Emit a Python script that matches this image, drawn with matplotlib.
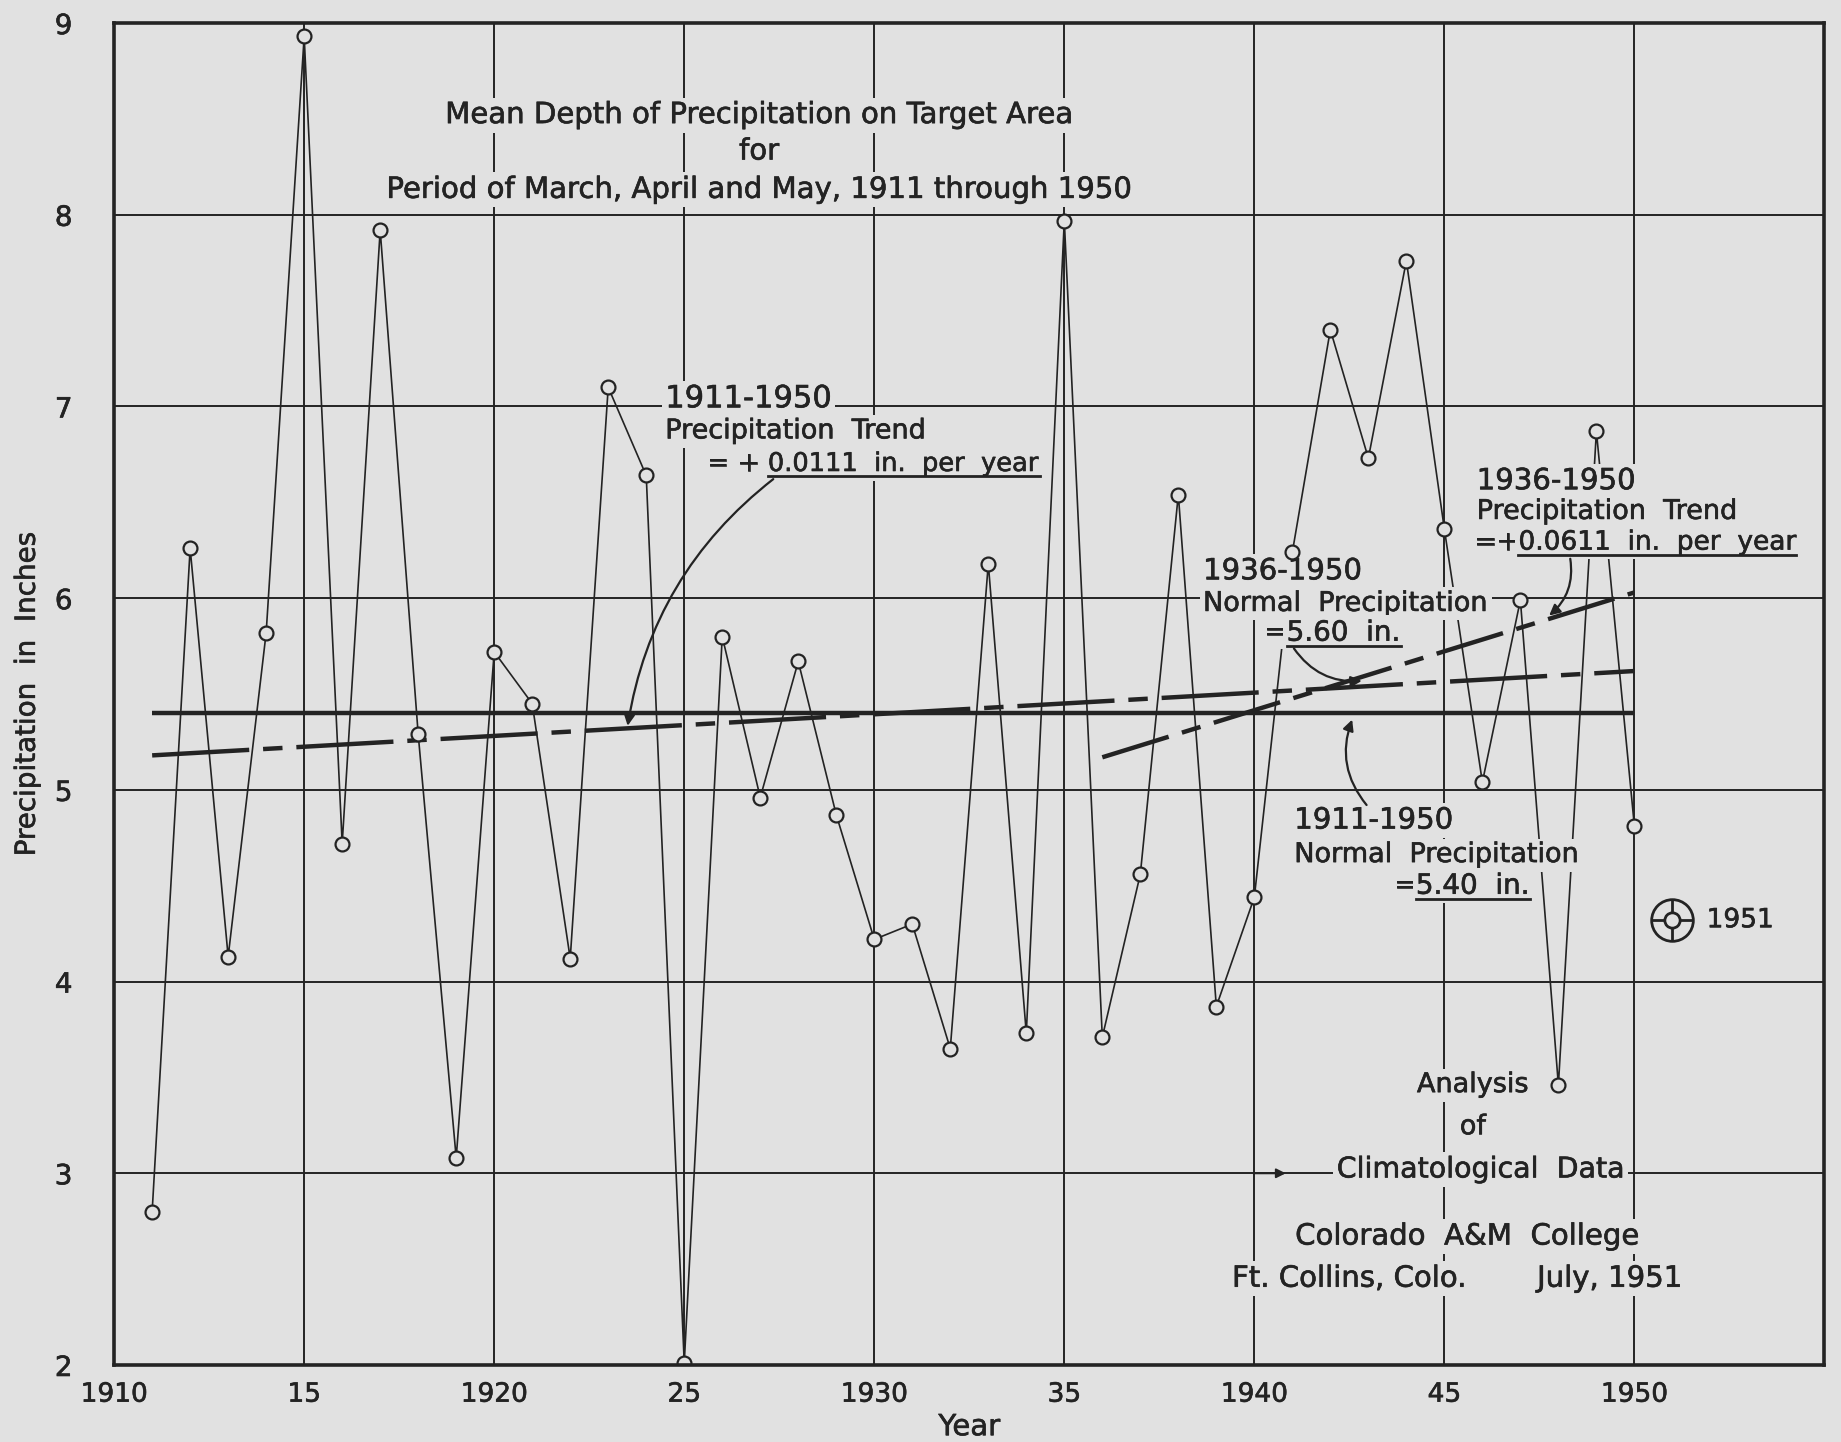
"""mean depth of spring precipitation on target area, 1911-1950"""

import matplotlib
matplotlib.use("Agg")
import matplotlib.pyplot as plt
import matplotlib.patheffects as pe
from matplotlib.lines import Line2D

# yearly values (March, April and May)
years = list(range(1911, 1951))
precip = [2.80, 6.26, 4.13, 5.82, 8.93, 4.72, 7.92, 5.29, 3.08, 5.72,
          5.45, 4.12, 7.10, 6.64, 2.01, 5.80, 4.96, 5.67, 4.87, 4.22,
          4.30, 3.65, 6.18, 3.73, 7.97, 3.71, 4.56, 6.54, 3.87, 4.44,
          6.24, 7.40, 6.73, 7.76, 6.36, 5.04, 5.99, 3.46, 6.87, 4.81]
year_1951 = [1951]
precip_1951 = [4.32]

# normals and trend lines
normal_years = [1911, 1950]
normal_all = [5.40, 5.40]
trend_all_years = [1911, 1950]
trend_all = [5.18, 5.62]
trend_recent_years = [1936, 1950]
trend_recent = [5.17, 6.03]

x_ticks = [1910, 1915, 1920, 1925, 1930, 1935, 1940, 1945, 1950]
x_tick_labels = ["1910", "15", "1920", "25", "1930", "35", "1940", "45", "1950"]
y_ticks = [2, 3, 4, 5, 6, 7, 8, 9]

bg = "#e1e1e1"
ink = "#232323"
bold_ink = [pe.withStroke(linewidth=0.45, foreground=ink)]

plt.rcParams["font.family"] = ["DejaVu Sans"]
plt.rcParams["lines.scale_dashes"] = False


def label(ax, x, y, s, size=19, ha="left", va="center"):
    """text that blanks out the grid behind it"""
    return ax.text(x, y, s, fontsize=size, ha=ha, va=va, color=ink, zorder=5,
                   path_effects=bold_ink,
                   bbox=dict(facecolor=bg, edgecolor="none", pad=2.5))


def arrow(ax, start, end, rad=0.25):
    ax.annotate("", xy=end, xytext=start, zorder=6,
                arrowprops=dict(arrowstyle="-|>", color=ink, lw=1.6,
                                mutation_scale=16,
                                connectionstyle="arc3,rad=%s" % rad))


def underline(fig, texts):
    fig.canvas.draw()
    inv = fig.transFigure.inverted()
    for t in texts:
        bb = t.get_window_extent()
        (x0, y0), (x1, _) = inv.transform([(bb.x0, bb.y0 + 1), (bb.x1, bb.y0 + 1)])
        fig.add_artist(Line2D([x0, x1], [y0, y0], transform=fig.transFigure,
                              lw=2.0, color=ink, zorder=7))


def main():
    fig = plt.figure(figsize=(18.41, 14.42), dpi=100, facecolor=bg)
    ax = fig.add_axes([0.062, 0.0534, 0.929, 0.9306])
    ax.set_facecolor(bg)
    ax.set_xlim(1910, 1955)
    ax.set_ylim(2, 9)

    # grid
    for x in x_ticks[1:]:
        ax.axvline(x, color=ink, lw=1.4, zorder=1)
    for y in y_ticks[1:-1]:
        ax.axhline(y, color=ink, lw=1.4, zorder=1)

    # normal and trends
    ax.plot(normal_years, normal_all, color=ink, lw=3.2, zorder=2,
            solid_capstyle="butt")
    ax.plot(trend_all_years, trend_all, color=ink, lw=3.2, zorder=2,
            dashes=(70, 10, 14, 10))
    ax.plot(trend_recent_years, trend_recent, color=ink, lw=3.2, zorder=2,
            dashes=(50, 10, 14, 10))

    # yearly data, circles kept above the text masks
    ax.plot(years, precip, color=ink, lw=1.2, zorder=3)
    ax.plot(years, precip, ls="none", zorder=6, marker="o", ms=10,
            mfc=bg, mec=ink, mew=1.6)

    # 1951 symbol
    ax.plot(year_1951, precip_1951, ls="none", marker="o", ms=30, mfc=bg,
            mec=ink, mew=2, zorder=6)
    ax.plot(year_1951, precip_1951, ls="none", marker="+", ms=30, mec=ink,
            mew=2, zorder=6)
    ax.plot(year_1951, precip_1951, ls="none", marker="o", ms=11, mfc=bg,
            mec=ink, mew=2, zorder=6)
    label(ax, 1951.9, 4.32, "1951", size=19)

    # title
    label(ax, 1926.97, 8.52, "Mean Depth of Precipitation on Target Area", 21, "center")
    label(ax, 1926.97, 8.33, "for", 21, "center")
    label(ax, 1926.97, 8.13, "Period of March, April and May, 1911 through 1950", 21, "center")

    under = []
    # 1911-1950 trend
    label(ax, 1924.5, 7.04, "1911-1950", 22)
    label(ax, 1924.5, 6.87, "Precipitation  Trend", 19.5)
    label(ax, 1927.2, 6.70, "= + ", 19, "right")
    under.append(label(ax, 1927.2, 6.70, "0.0111  in.  per  year", 18.5))
    arrow(ax, (1927.4, 6.63), (1923.5, 5.32), rad=0.2)

    # 1936-1950 trend
    label(ax, 1945.85, 6.61, "1936-1950", 21)
    label(ax, 1945.85, 6.45, "Precipitation  Trend", 19.5)
    label(ax, 1946.95, 6.29, "=+", 19, "right")
    under.append(label(ax, 1946.95, 6.29, "0.0611  in.  per  year", 19))
    arrow(ax, (1948.3, 6.22), (1947.7, 5.90), rad=-0.3)

    # 1936-1950 normal
    label(ax, 1938.65, 6.14, "1936-1950", 21)
    label(ax, 1938.65, 5.97, "Normal  Precipitation", 19.5)
    label(ax, 1940.85, 5.82, "=", 19, "right")
    under.append(label(ax, 1940.85, 5.82, "5.60  in.", 20))
    arrow(ax, (1941.0, 5.75), (1942.9, 5.57), rad=0.3)

    # 1911-1950 normal
    label(ax, 1941.05, 4.84, "1911-1950", 21)
    label(ax, 1941.05, 4.66, "Normal  Precipitation", 19.5)
    label(ax, 1944.25, 4.50, "=", 19, "right")
    under.append(label(ax, 1944.25, 4.50, "5.40  in.", 20))
    arrow(ax, (1943.0, 4.91), (1942.6, 5.38), rad=-0.3)

    # credits
    label(ax, 1945.75, 3.46, "Analysis", 19.5, "center")
    label(ax, 1945.75, 3.24, "of", 19.5, "center")
    label(ax, 1945.95, 3.02, "Climatological  Data", 20.5, "center")
    label(ax, 1945.6, 2.67, "Colorado  A&M  College", 21, "center")
    label(ax, 1942.5, 2.45, "Ft. Collins, Colo.", 21, "center")
    label(ax, 1949.35, 2.45, "July, 1951", 21, "center")
    ax.annotate("", xy=(1940.9, 3.0), xytext=(1939.9, 3.0), zorder=2,
                arrowprops=dict(arrowstyle="-|>", color=ink, lw=1.4,
                                mutation_scale=14))

    # axes
    ax.set_xticks(x_ticks)
    ax.set_xticklabels(x_tick_labels, fontsize=19)
    ax.set_yticks(y_ticks)
    ax.tick_params(length=0, colors=ink)
    ax.tick_params(axis="x", pad=12)
    ax.tick_params(axis="y", labelsize=20, pad=30)
    for t in ax.get_xticklabels() + ax.get_yticklabels():
        t.set_path_effects(bold_ink)
    ax.set_xlabel("Year", fontsize=21, color=ink, labelpad=4,
                  path_effects=bold_ink)
    ax.set_ylabel("Precipitation  in  Inches", fontsize=20, color=ink,
                  labelpad=10, path_effects=bold_ink)
    for sp in ax.spines.values():
        sp.set_linewidth(2.6)
        sp.set_color(ink)
        sp.set_zorder(8)

    underline(fig, under)
    fig.savefig("out.png", dpi=100, facecolor=bg)
    plt.close()


if __name__ == "__main__":
    main()
